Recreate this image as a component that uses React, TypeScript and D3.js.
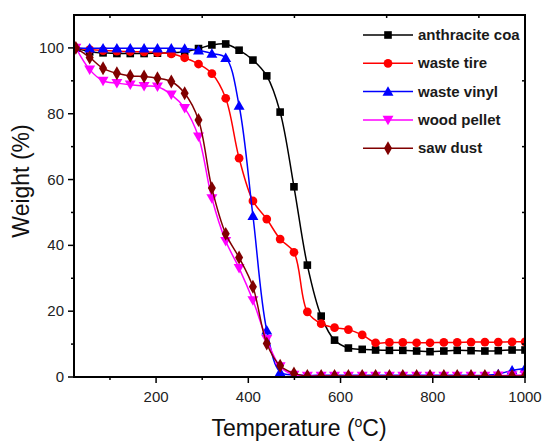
import React from 'react';
import * as d3 from 'd3';

const width = 543;
const height = 441;
const margin = { top: 15, right: 18, bottom: 64, left: 74 };

// temperature of each recorded point (°C)
const temps = [26, 56, 85, 115, 144, 174, 203, 233, 262, 292, 321, 351, 380, 410, 440, 469, 499,
  528, 558, 587, 617, 647, 676, 706, 735, 765, 794, 824, 853, 883, 913, 942, 972, 1000];

const anthraciteCoal = [100, 98.8, 98.5, 98.3, 98.3, 98.3, 98.4, 98.5, 98.8, 99.8, 100.9, 101.2, 99.3, 96.3,
  91.5, 80.5, 57.8, 34.0, 18.5, 11.2, 8.8, 8.4, 8.2, 8.1, 8.1, 7.9, 7.7, 7.9, 8.1, 8.0, 7.9, 8.0, 8.2, 8.2];
const wasteTire = [100, 99.5, 99.2, 99.0, 98.9, 98.8, 98.6, 98.2, 97.0, 95.1, 92.2, 84.7, 66.5, 53.5,
  48.0, 41.9, 37.9, 19.8, 16.2, 15.0, 14.4, 12.8, 10.4, 10.5, 10.5, 10.4, 10.4, 10.5, 10.5, 10.6, 10.6, 10.6, 10.7, 10.7];
const wasteVinyl = [100, 99.9, 99.9, 99.9, 99.9, 99.9, 99.9, 99.9, 99.8, 99.3, 98.3, 97.0, 82.5, 49.0,
  14.2, 1.5, 0.6, 0.5, 0.5, 0.5, 0.5, 0.5, 0.5, 0.5, 0.5, 0.5, 0.5, 0.5, 0.5, 0.5, 0.5, 0.9, 2.0, 2.6];
const woodPellet = [100, 93.4, 90.0, 89.3, 88.8, 88.4, 88.2, 85.8, 81.7, 73.0, 54.3, 41.3, 33.1, 23.3,
  11.5, 3.2, 0.6, 0.3, 0.3, 0.3, 0.3, 0.3, 0.3, 0.3, 0.3, 0.3, 0.3, 0.3, 0.3, 0.3, 0.3, 0.4, 0.5, 0.7];
const sawDust = [100, 97.1, 93.8, 92.3, 91.5, 91.3, 90.8, 89.8, 86.2, 78.1, 57.4, 43.5, 36.3, 27.4,
  10.2, 3.4, 1.1, 0.3, 0.3, 0.3, 0.3, 0.3, 0.3, 0.3, 0.3, 0.3, 0.3, 0.3, 0.3, 0.3, 0.3, 0.3, 0.3, 0.4];

const seriesNames = ['anthracite coa', 'waste tire', 'waste vinyl', 'wood pellet', 'saw dust'];
const seriesValues = [anthraciteCoal, wasteTire, wasteVinyl, woodPellet, sawDust];
const seriesColors = ['#000000', '#ff0000', '#0000ff', '#ff00ff', '#800000'];
const seriesMarkers = ['square', 'circle', 'triangle', 'triangleDown', 'diamond'];

const xTicks = [200, 400, 600, 800, 1000];
const xMinorTicks = [100, 300, 500, 700, 900];
const yTicks = [0, 20, 40, 60, 80, 100];
const yMinorTicks = [10, 30, 50, 70, 90];

const font = 'Arial, "Liberation Sans", sans-serif';

function markerPath(kind) {
  if (kind === 'square') return d3.symbol(d3.symbolSquare, 58)();
  if (kind === 'circle') return d3.symbol(d3.symbolCircle, 60)();
  if (kind === 'triangle' || kind === 'triangleDown') return d3.symbol(d3.symbolTriangle, 52)();
  return d3.symbol(d3.symbolDiamond, 56)();
}

function Marker({ kind, x, y, color }) {
  const rot = kind === 'triangleDown' ? ' rotate(180)' : '';
  const dy = kind === 'triangle' ? 1 : kind === 'triangleDown' ? -1 : 0;
  return <path d={markerPath(kind)} transform={`translate(${x},${y + dy})${rot}`} fill={color} />;
}

export default function App() {
  const x = d3.scaleLinear().domain([22, 1000]).range([margin.left, width - margin.right]);
  const y = d3.scaleLinear().domain([0, 110]).range([height - margin.bottom, margin.top]);
  const x0 = margin.left, x1 = width - margin.right;
  const y0 = height - margin.bottom, y1 = margin.top;

  const line = d3.line()
    .x((d, i) => x(temps[i]))
    .y(d => y(d))
    .curve(d3.curveCatmullRom.alpha(0.5));

  const legendX = 363;
  const legendY = 35;
  const legendStep = 28.3;

  return (
    <svg width={width} height={height} style={{ display: 'block', position: 'absolute', left: 0, top: 0 }}>
      <rect width={width} height={height} fill="#fff" />
      <defs>
        <clipPath id="plot">
          <rect x={x0} y={y1} width={x1 - x0} height={y0 - y1} />
        </clipPath>
      </defs>

      <g clipPath="url(#plot)">
        {seriesValues.map((vals, s) => (
          <g key={seriesNames[s]}>
            <path d={line(vals)} fill="none" stroke={seriesColors[s]} strokeWidth={1.5} />
            {vals.map((v, i) => (
              <Marker key={i} kind={seriesMarkers[s]} x={x(temps[i])} y={y(v)} color={seriesColors[s]} />
            ))}
          </g>
        ))}
      </g>

      {/* frame */}
      <rect x={x0} y={y1} width={x1 - x0} height={y0 - y1} fill="none" stroke="#000" strokeWidth={2} />

      {/* bottom axis */}
      {xTicks.map(t => (
        <g key={t}>
          <line x1={x(t)} x2={x(t)} y1={y0} y2={y0 + 6} stroke="#000" strokeWidth={1.5} />
          <text x={x(t)} y={y0 + 25} textAnchor="middle" fontFamily={font} fontSize={15} fill="#222">{t}</text>
        </g>
      ))}
      {xMinorTicks.map(t => (
        <g key={t}>
          <line x1={x(t)} x2={x(t)} y1={y0} y2={y0 + 3} stroke="#000" strokeWidth={1.5} />
          <line x1={x(t)} x2={x(t)} y1={y1} y2={y1 + 3} stroke="#000" strokeWidth={1.5} />
        </g>
      ))}

      {/* left axis */}
      {yTicks.map(t => (
        <g key={t}>
          <line x1={x0 - 6} x2={x0} y1={y(t)} y2={y(t)} stroke="#000" strokeWidth={1.5} />
          <text x={x0 - 10} y={y(t) + 5} textAnchor="end" fontFamily={font} fontSize={15} fill="#222">{t}</text>
        </g>
      ))}
      {yMinorTicks.map(t => (
        <g key={t}>
          <line x1={x0 - 3} x2={x0} y1={y(t)} y2={y(t)} stroke="#000" strokeWidth={1.5} />
          <line x1={x1 - 3} x2={x1} y1={y(t)} y2={y(t)} stroke="#000" strokeWidth={1.5} />
        </g>
      ))}

      {/* axis titles */}
      <text x={299} y={436} textAnchor="middle" fontFamily={font} fontSize={23} fill="#111">
        Temperature (<tspan fontSize={14} dy={-9}>o</tspan><tspan dy={9}>C)</tspan>
      </text>
      <text transform="translate(29,181) rotate(-90)" textAnchor="middle" fontFamily={font} fontSize={23} fill="#111">
        Weight (%)
      </text>

      {/* legend */}
      {seriesNames.map((name, s) => {
        const ly = legendY + s * legendStep;
        return (
          <g key={name}>
            <line x1={legendX} x2={legendX + 50} y1={ly} y2={ly} stroke={seriesColors[s]} strokeWidth={1.5} />
            <Marker kind={seriesMarkers[s]} x={legendX + 25} y={ly} color={seriesColors[s]} />
            <text x={legendX + 55} y={ly + 5} fontFamily={font} fontSize={15} fontWeight="bold" fill="#1a1a1a">{name}</text>
          </g>
        );
      })}
    </svg>
  );
}
